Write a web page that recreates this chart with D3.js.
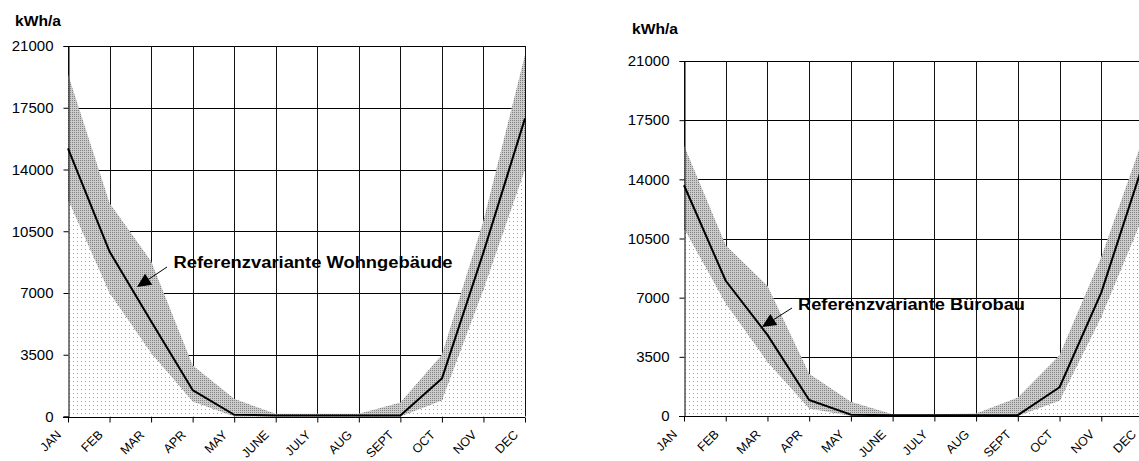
<!DOCTYPE html>
<html>
<head>
<meta charset="utf-8">
<script src="https://cdn.jsdelivr.net/npm/d3@7"></script>
<style>
  html, body { margin: 0; padding: 0; background: #fff; }
  svg { display: block; font-family: "Liberation Sans", Arial, sans-serif; }
</style>
</head>
<body>
<svg id="chart" width="1139" height="461"></svg>
<script>
// ---------- data ----------
const months = ["JAN","FEB","MAR","APR","MAY","JUNE","JULY","AUG","SEPT","OCT","NOV","DEC"];
const yTicks = [0, 3500, 7000, 10500, 14000, 17500, 21000];

// Referenzvariante Wohngebäude (left)
const wohnLower = [12300, 7000, 3600, 850, 0, 0, 0, 0, 0, 900, 7200, 14000];
const wohnMean  = [15200, 9350, 5400, 1500, 100, 60, 60, 60, 60, 2150, 9300, 16900];
const wohnUpper = [19400, 12100, 8800, 2900, 1000, 150, 150, 150, 800, 3500, 11100, 20500];

// Referenzvariante Bürobau (right)
const buroLower = [11100, 6650, 3200, 450, 0, 0, 0, 0, 0, 900, 5850, 11800];
const buroMean  = [13650, 8000, 4800, 950, 80, 50, 50, 50, 50, 1700, 7300, 14900];
const buroUpper = [16000, 10100, 7700, 2500, 850, 100, 100, 150, 1100, 3600, 9400, 16400];

const unitLabel = "kWh/a";
const titleLeft = "Referenzvariante Wohngebäude";
const titleRight = "Referenzvariante Bürobau";

// ---------- drawing ----------
const svg = d3.select("#chart");
const defs = svg.append("defs");

const dots = defs.append("pattern").attr("id", "dots")
  .attr("width", 4).attr("height", 4).attr("patternUnits", "userSpaceOnUse");
dots.append("rect").attr("width", 4).attr("height", 4).attr("fill", "#fff");
dots.append("rect").attr("x", 1).attr("y", 1).attr("width", 1).attr("height", 1).attr("fill", "#a0a0a0");

const hatch = defs.append("pattern").attr("id", "hatch")
  .attr("width", 2).attr("height", 2).attr("patternUnits", "userSpaceOnUse");
hatch.append("rect").attr("width", 2).attr("height", 2).attr("fill", "#cccccc");
hatch.append("rect").attr("x", 0).attr("y", 0).attr("width", 1).attr("height", 1).attr("fill", "#808080");

function drawPanel(cfg) {
  const x = d3.scalePoint().domain(months).range([cfg.x0, cfg.x1]);
  const y = d3.scaleLinear().domain([0, 21000]).range([cfg.yBottom, cfg.yTop]);
  const g = svg.append("g");

  // grid
  g.append("g").selectAll("line").data(yTicks).join("line")
    .attr("x1", cfg.x0).attr("x2", cfg.x1)
    .attr("y1", d => Math.round(y(d)) + 0.5).attr("y2", d => Math.round(y(d)) + 0.5)
    .attr("stroke", "#000").attr("stroke-width", 1);
  g.append("g").selectAll("line").data(months).join("line")
    .attr("x1", d => Math.round(x(d)) + 0.5).attr("x2", d => Math.round(x(d)) + 0.5)
    .attr("y1", y(0)).attr("y2", y(21000))
    .attr("stroke", "#111").attr("stroke-width", 1);

  const idx = months.map((m, i) => i);
  // lower dotted area
  g.append("path").datum(idx)
    .attr("d", d3.area().x(i => x(months[i])).y0(y(0)).y1(i => y(cfg.lower[i])))
    .attr("fill", "url(#dots)");
  // band
  g.append("path").datum(idx)
    .attr("d", d3.area().x(i => x(months[i])).y0(i => y(cfg.lower[i])).y1(i => y(cfg.upper[i])))
    .attr("fill", "url(#hatch)");
  // mean line
  g.append("path").datum(idx)
    .attr("d", d3.line().x(i => x(months[i])).y(i => y(cfg.mean[i])))
    .attr("fill", "none").attr("stroke", "#000").attr("stroke-width", 2)
    .attr("stroke-linejoin", "round");

  // left axis
  const ax = g.append("g").attr("transform", `translate(${Math.round(cfg.x0) + 0.5},0)`)
    .call(d3.axisLeft(y).tickValues(yTicks).tickSize(5).tickPadding(10).tickFormat(d3.format("d")));
  ax.select(".domain").attr("stroke", "#000");
  ax.selectAll("line").attr("stroke", "#000");
  ax.selectAll("text").attr("font-size", 15).attr("fill", "#000")
    .attr("font-family", '"Liberation Sans", Arial, sans-serif');

  // bottom axis
  const bx = g.append("g").attr("transform", `translate(0,${Math.round(y(0)) + 0.5})`)
    .call(d3.axisBottom(x).tickSize(5).tickFormat(""));
  bx.select(".domain").attr("stroke", "#000").attr("d", `M${cfg.x0 - 5},0H${cfg.x1}`);
  bx.selectAll("line").attr("stroke", "#000");
  g.append("g").selectAll("text").data(months).join("text")
    .attr("transform", d => `translate(${x(d) - 6},${y(0) + 19}) rotate(-45)`)
    .attr("text-anchor", "end")
    .attr("font-size", 12.5)
    .attr("fill", "#000")
    .text(d => d);

  // unit label
  g.append("text").attr("x", cfg.unitX).attr("y", cfg.unitY)
    .attr("font-size", 15).attr("font-weight", "bold")
    .attr("textLength", 46).attr("lengthAdjust", "spacingAndGlyphs")
    .text(unitLabel);

  // annotation
  const a = cfg.arrow;
  const dx = a.tip[0] - a.start[0], dy = a.tip[1] - a.start[1];
  const len = Math.hypot(dx, dy), ux = dx / len, uy = dy / len;
  const hl = 14, hw = 6.5;
  const bxp = a.tip[0] - ux * hl, byp = a.tip[1] - uy * hl;
  g.append("line").attr("x1", a.start[0]).attr("y1", a.start[1])
    .attr("x2", bxp).attr("y2", byp).attr("stroke", "#000").attr("stroke-width", 1);
  g.append("path")
    .attr("d", `M${a.tip[0]},${a.tip[1]}L${bxp - uy * hw},${byp + ux * hw}L${bxp + uy * hw},${byp - ux * hw}Z`)
    .attr("fill", "#000");
  g.append("text").attr("x", cfg.labelX).attr("y", cfg.labelY)
    .attr("font-size", 16).attr("font-weight", "bold")
    .attr("textLength", cfg.labelW).attr("lengthAdjust", "spacingAndGlyphs")
    .text(cfg.title);
}

drawPanel({
  x0: 68, x1: 525, yTop: 46, yBottom: 416.5,
  lower: wohnLower, mean: wohnMean, upper: wohnUpper,
  unitX: 15, unitY: 26,
  title: titleLeft, labelX: 173.5, labelY: 268, labelW: 279,
  arrow: { start: [167, 267], tip: [137, 287] }
});

drawPanel({
  x0: 684, x1: 1143, yTop: 61, yBottom: 416,
  lower: buroLower, mean: buroMean, upper: buroUpper,
  unitX: 632, unitY: 34,
  title: titleRight, labelX: 798, labelY: 309.5, labelW: 227,
  arrow: { start: [792, 308], tip: [762, 327] }
});
</script>
</body>
</html>
